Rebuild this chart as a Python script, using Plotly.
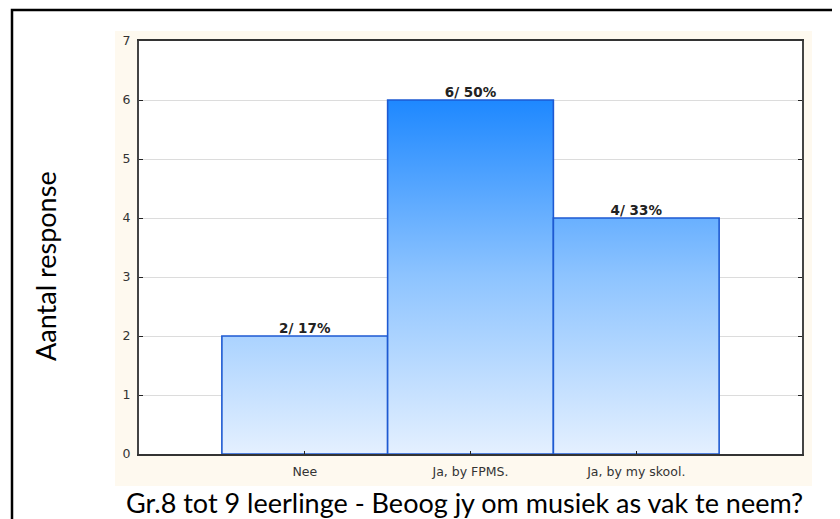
import plotly.graph_objects as go

categories = ["Nee", "Ja, by FPMS.", "Ja, by my skool."]
counts = [2, 6, 4]
bar_labels = ["2/ 17%", "6/ 50%", "4/ 33%"]
y_ticks = [0, 1, 2, 3, 4, 5, 6, 7]

# page body has an 8px margin, so the figure is drawn 8px smaller and shifted
OFF = 8
W, H = 840 - OFF, 519 - OFF
ML, MR, MT, MB = 139 - OFF, 38, 41 - OFF, 65
PW, PH = W - ML - MR, H - MT - MB


def px(x):
    return (x - OFF - ML) / PW


def py(y):
    return 1 - (y - OFF - MT) / PH


fig = go.Figure()
positions = list(range(1, len(categories) + 1))
half = 0.5
for pos, v in zip(positions, counts):
    fig.add_trace(go.Scatter(
        x=[pos - half, pos - half, pos + half, pos + half, pos - half],
        y=[0, v, v, 0, 0],
        mode="lines",
        line=dict(color="#1E5AD2", width=1.6),
        fill="toself",
        fillgradient=dict(type="vertical",
                          colorscale=[[0, "#E4F0FF"], [0.5, "#8EC4FF"], [1, "#1E88FF"]],
                          start=0, stop=max(counts)),
        hoverinfo="skip", showlegend=False,
    ))

fig.add_trace(go.Scatter(
    x=positions, y=counts, mode="text", text=bar_labels,
    textposition="top center",
    textfont=dict(family="DejaVu Sans", size=13.5, color="#222222", weight="bold"),
    hoverinfo="skip", showlegend=False,
))

tickfont = dict(family="DejaVu Sans", size=12.5, color="#333333")

fig.update_layout(
    width=W, height=H,
    margin=dict(l=ML, r=MR, t=MT, b=MB, pad=0),
    paper_bgcolor="white", plot_bgcolor="white",
    showlegend=False,
    xaxis=dict(range=[0, len(categories) + 1], tickvals=positions, ticktext=categories,
               showgrid=False, zeroline=False,
               showline=True, linecolor="#333333", linewidth=2, mirror=True,
               ticks="inside", ticklen=3, tickcolor="#222222", tickwidth=1,
               ticklabelstandoff=5, tickfont=tickfont),
    yaxis=dict(range=[0, 7], tickvals=y_ticks,
               showgrid=True, gridcolor="#DCDCDC", gridwidth=1, zeroline=False,
               showline=True, linecolor="#444444", linewidth=2, mirror="ticks",
               ticks="inside", ticklen=4, tickcolor="#222222", tickwidth=1,
               ticklabelstandoff=4, tickfont=tickfont),
    shapes=[
        dict(type="rect", xref="paper", yref="paper", layer="below",
             x0=px(115), x1=px(812), y0=py(486), y1=py(31),
             fillcolor="#FEF9EF", line=dict(width=0)),
        dict(type="rect", xref="paper", yref="paper", layer="below",
             x0=0, x1=1, y0=0, y1=1,
             fillcolor="white", line=dict(width=0)),
        dict(type="rect", xref="paper", yref="paper",
             x0=px(12), x1=px(900), y0=py(600), y1=py(10),
             fillcolor="rgba(0,0,0,0)", line=dict(color="black", width=2.5)),
    ],
    annotations=[
        dict(text="Aantal response", xref="paper", yref="paper",
             x=px(45), y=py(266), textangle=-90, showarrow=False,
             xanchor="center", yanchor="middle",
             font=dict(family="Lato", size=27, color="black")),
        dict(text="Gr.8 tot 9 leerlinge - Beoog jy om musiek as vak te neem?",
             xref="paper", yref="paper", x=px(464), y=py(503), showarrow=False,
             xanchor="center", yanchor="middle",
             font=dict(family="Lato", size=27, color="black")),
    ],
)

fig.write_html("out.html")
